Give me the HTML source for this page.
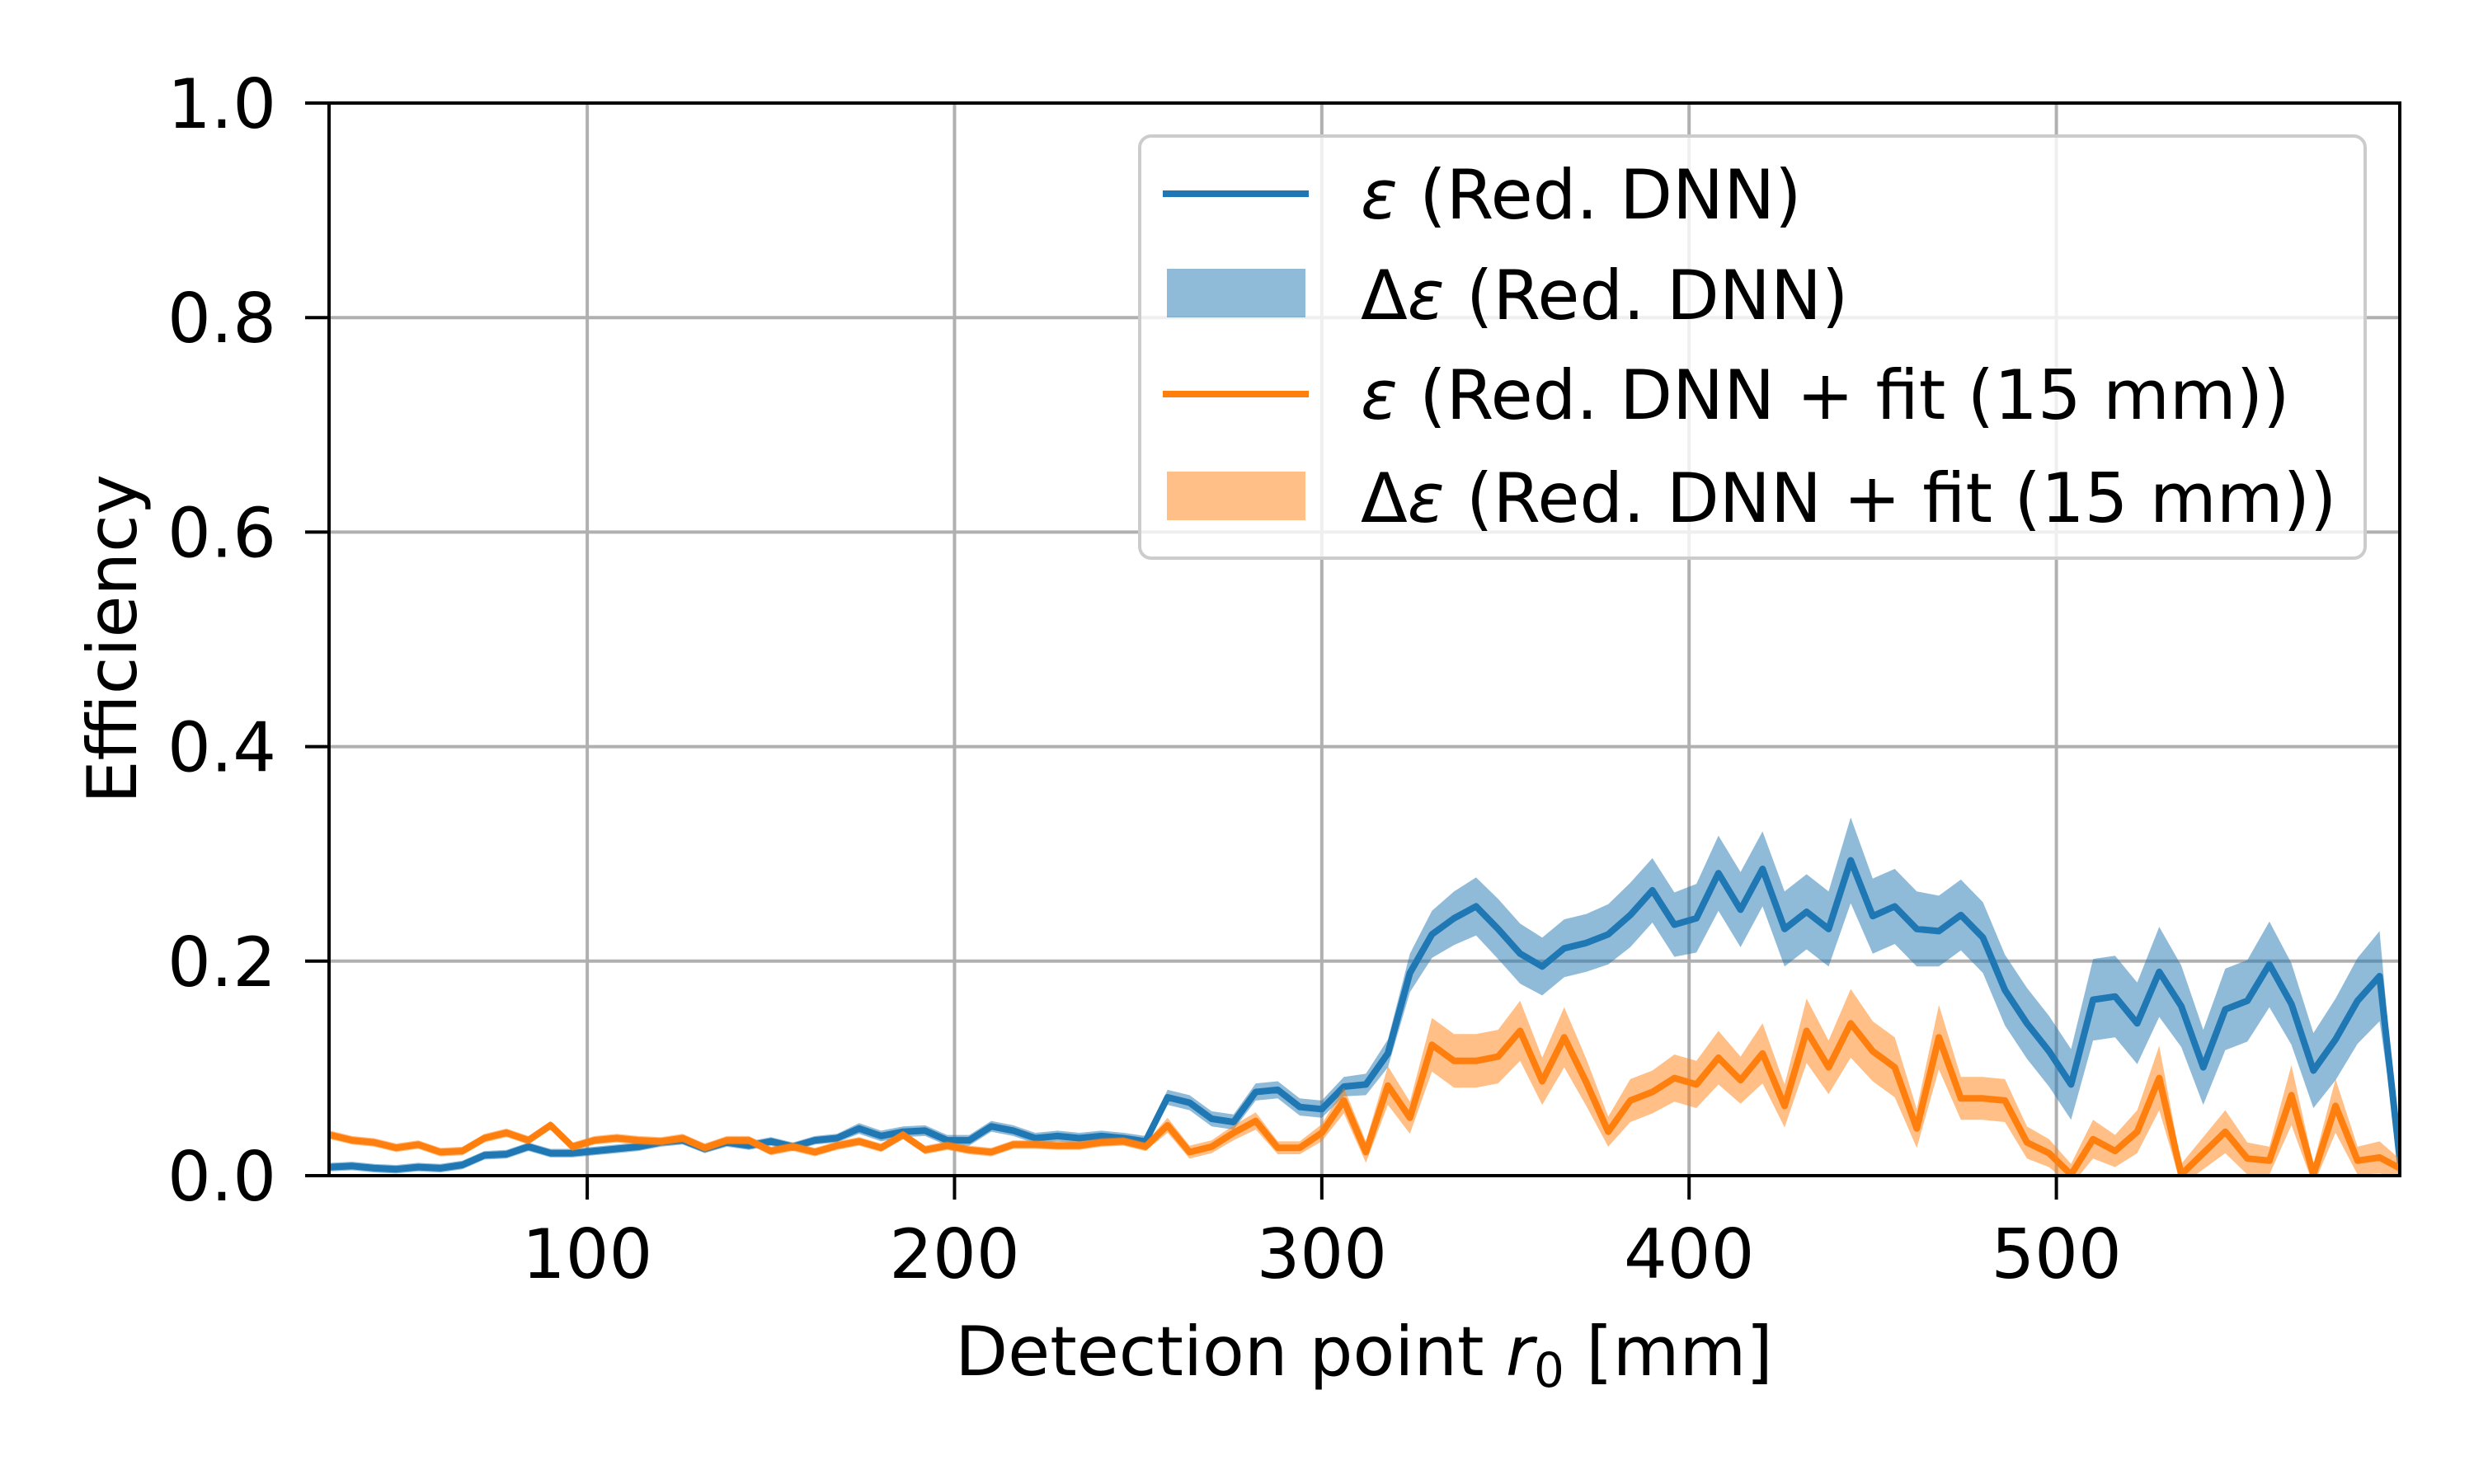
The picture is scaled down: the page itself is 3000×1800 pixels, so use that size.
<!DOCTYPE html>
<html><head><meta charset="utf-8">
<style>
html,body{margin:0;padding:0;background:#fff;}
svg{display:block;font-family:"DejaVu Sans","Liberation Sans",sans-serif;}
</style></head>
<body>
<svg id="chart" width="3000" height="1800" viewBox="0 0 3000 1800" xmlns="http://www.w3.org/2000/svg">
<defs><clipPath id="plotclip"><rect x="399" y="125" width="2511" height="1301"/></clipPath></defs>
<rect x="0" y="0" width="3000" height="1800" fill="#fff"/>
<g id="grid"></g>
<g id="series" clip-path="url(#plotclip)"></g>
<rect x="399" y="125" width="2511" height="1301" fill="none" stroke="#000" stroke-width="4"/>
<g id="ticks"></g>
<text x="1654" y="1668" font-size="83" text-anchor="middle">Detection point <tspan font-style="italic">r</tspan><tspan font-size="58" dy="14">0</tspan><tspan dy="-14"> [mm]</tspan></text>
<text x="0" y="0" font-size="83" text-anchor="middle" transform="translate(165,775) rotate(-90)">Efficiency</text>
<g>
<rect x="1382" y="165" width="1486" height="512" rx="14" fill="#fff" fill-opacity="0.8" stroke="#ccc" stroke-width="4"/>
<line x1="1410" y1="235" x2="1587" y2="235" stroke="#1f77b4" stroke-width="8"/>
<text x="1650" y="265" font-size="83"><tspan font-style="italic">ε</tspan> (Red. DNN)</text>
<rect x="1415" y="326" width="168" height="59" fill="#1f77b4" fill-opacity="0.5"/>
<text x="1650" y="387" font-size="83">Δ<tspan font-style="italic">ε</tspan> (Red. DNN)</text>
<line x1="1410" y1="478" x2="1587" y2="478" stroke="#ff7f0e" stroke-width="8"/>
<text x="1650" y="508" font-size="83"><tspan font-style="italic">ε</tspan> (Red. DNN + fit (15 mm))</text>
<rect x="1415" y="572" width="168" height="59" fill="#ff7f0e" fill-opacity="0.5"/>
<text x="1650" y="633" font-size="83">Δ<tspan font-style="italic">ε</tspan> (Red. DNN + fit (15 mm))</text>
</g>
</svg>
<script>
const r0 = [30,36,42,48,54,60,66,72,78,84,90,96,102,108,114,120,126,132,138,144,150,156,162,168,174,180,186,192,198,204,210,216,222,228,234,240,246,252,258,264,270,276,282,288,294,300,306,312,318,324,330,336,342,348,354,360,366,372,378,384,390,396,402,408,414,420,426,432,438,444,450,456,462,468,474,480,486,492,498,504,510,516,522,528,534,540,546,552,558,564,570,576,582,588,594];
const effBlue = [0.008,0.009,0.007,0.006,0.008,0.007,0.010,0.019,0.020,0.027,0.021,0.021,0.023,0.025,0.027,0.031,0.033,0.025,0.031,0.028,0.032,0.027,0.033,0.035,0.044,0.037,0.041,0.042,0.033,0.033,0.046,0.042,0.035,0.037,0.035,0.037,0.035,0.032,0.073,0.068,0.053,0.050,0.078,0.080,0.064,0.062,0.083,0.085,0.114,0.189,0.225,0.240,0.251,0.230,0.207,0.195,0.212,0.217,0.225,0.243,0.266,0.234,0.240,0.282,0.248,0.286,0.230,0.246,0.230,0.294,0.242,0.251,0.230,0.228,0.243,0.222,0.173,0.142,0.116,0.085,0.164,0.167,0.142,0.190,0.158,0.101,0.155,0.163,0.197,0.160,0.098,0.127,0.163,0.186,0.0];
const errBlue = [0.004,0.004,0.004,0.004,0.004,0.004,0.004,0.004,0.004,0.004,0.004,0.004,0.004,0.004,0.004,0.004,0.004,0.004,0.004,0.004,0.004,0.004,0.004,0.004,0.005,0.005,0.005,0.005,0.005,0.005,0.005,0.005,0.005,0.005,0.005,0.005,0.005,0.005,0.007,0.007,0.007,0.007,0.008,0.008,0.008,0.008,0.009,0.010,0.013,0.018,0.022,0.025,0.027,0.028,0.028,0.027,0.027,0.027,0.028,0.030,0.030,0.030,0.032,0.035,0.035,0.035,0.035,0.035,0.035,0.040,0.035,0.035,0.035,0.033,0.033,0.033,0.033,0.033,0.033,0.033,0.038,0.038,0.038,0.042,0.038,0.035,0.038,0.038,0.040,0.038,0.035,0.038,0.040,0.042,0.0];
const effOrange = [0.038,0.033,0.031,0.026,0.029,0.022,0.023,0.035,0.040,0.033,0.047,0.027,0.033,0.035,0.033,0.032,0.035,0.026,0.033,0.033,0.023,0.027,0.022,0.028,0.032,0.026,0.038,0.024,0.028,0.024,0.022,0.029,0.029,0.028,0.028,0.031,0.032,0.027,0.047,0.022,0.027,0.040,0.051,0.026,0.026,0.040,0.070,0.022,0.084,0.054,0.122,0.107,0.107,0.111,0.135,0.088,0.129,0.087,0.041,0.070,0.078,0.091,0.085,0.110,0.089,0.114,0.065,0.135,0.101,0.142,0.116,0.101,0.044,0.129,0.072,0.072,0.070,0.031,0.021,0.001,0.034,0.023,0.041,0.091,0.001,0.021,0.041,0.016,0.014,0.075,0.001,0.065,0.014,0.017,0.006];
const errOrange = [0.004,0.004,0.004,0.004,0.004,0.004,0.004,0.004,0.004,0.004,0.004,0.004,0.004,0.004,0.004,0.004,0.004,0.004,0.004,0.004,0.004,0.004,0.004,0.004,0.004,0.004,0.004,0.004,0.004,0.004,0.004,0.004,0.004,0.004,0.004,0.004,0.004,0.004,0.007,0.006,0.006,0.007,0.008,0.006,0.006,0.008,0.012,0.010,0.018,0.015,0.025,0.025,0.025,0.025,0.028,0.022,0.028,0.022,0.014,0.020,0.020,0.022,0.022,0.025,0.022,0.028,0.020,0.030,0.025,0.032,0.028,0.028,0.018,0.030,0.020,0.020,0.020,0.015,0.013,0.010,0.018,0.015,0.020,0.030,0.010,0.015,0.020,0.015,0.013,0.028,0.010,0.025,0.013,0.015,0.008];
const xTicks = [100,200,300,400,500];
const yTicks = [0.0,0.2,0.4,0.6,0.8,1.0];
const yTickLabels = ["0.0","0.2","0.4","0.6","0.8","1.0"];

const NS = "http://www.w3.org/2000/svg";
const X0 = 399, X1 = 2910, Y0 = 1426, Y1 = 125;
const XMIN = 29.7, XMAX = 593.5;
function sx(v){ return X0 + (v - XMIN) / (XMAX - XMIN) * (X1 - X0); }
function sy(v){ return Y0 - v * (Y0 - Y1); }
function mk(tag, attrs, parent){
  const e = document.createElementNS(NS, tag);
  for (const k in attrs) e.setAttribute(k, attrs[k]);
  parent.appendChild(e);
  return e;
}
const grid = document.getElementById('grid');
const ticks = document.getElementById('ticks');
const series = document.getElementById('series');

xTicks.forEach(function(t){
  const gl = mk('line', {x1:sx(t), x2:sx(t), y1:Y1, y2:Y0, stroke:'#b0b0b0', 'stroke-width':4}, grid);
  
  
  const tk = mk('line', {x1:sx(t), x2:sx(t), y1:Y0, y2:Y0+29, stroke:'#000', 'stroke-width':4}, ticks);
  
  
  const tl = mk('text', {x:sx(t), y:1550, 'font-size':83, 'text-anchor':'middle'}, ticks);
  tl.textContent = String(t);
  
  
});
yTicks.forEach(function(t, i){
  const gl = mk('line', {x1:X0, x2:X1, y1:sy(t), y2:sy(t), stroke:'#b0b0b0', 'stroke-width':4}, grid);
  
  
  const tk = mk('line', {x1:X0-29, x2:X0, y1:sy(t), y2:sy(t), stroke:'#000', 'stroke-width':4}, ticks);
  
  
  const tl = mk('text', {x:335, y:sy(t)+30, 'font-size':83, 'text-anchor':'end'}, ticks);
  tl.textContent = yTickLabels[i];
  
  
});

function band(vals, errs, color, name){
  let d = '';
  for (let i = 0; i < r0.length; i++) d += (i ? 'L' : 'M') + sx(r0[i]).toFixed(1) + ',' + sy(vals[i] + errs[i]).toFixed(1);
  for (let i = r0.length - 1; i >= 0; i--) d += 'L' + sx(r0[i]).toFixed(1) + ',' + sy(vals[i] - errs[i]).toFixed(1);
  d += 'Z';
  const p = mk('path', {d:d, fill:color, 'fill-opacity':0.5, stroke:'none'}, series);
  
  
}
function line(vals, color, name){
  let d = '';
  for (let i = 0; i < r0.length; i++) d += (i ? 'L' : 'M') + sx(r0[i]).toFixed(1) + ',' + sy(vals[i]).toFixed(1);
  const p = mk('path', {d:d, fill:'none', stroke:color, 'stroke-width':8, 'stroke-linejoin':'round'}, series);
  
  
}
band(effBlue, errBlue, '#1f77b4', 'blue-error-band');
line(effBlue, '#1f77b4', 'blue-efficiency-line');
band(effOrange, errOrange, '#ff7f0e', 'orange-error-band');
line(effOrange, '#ff7f0e', 'orange-efficiency-line');
</script>
</body></html>
